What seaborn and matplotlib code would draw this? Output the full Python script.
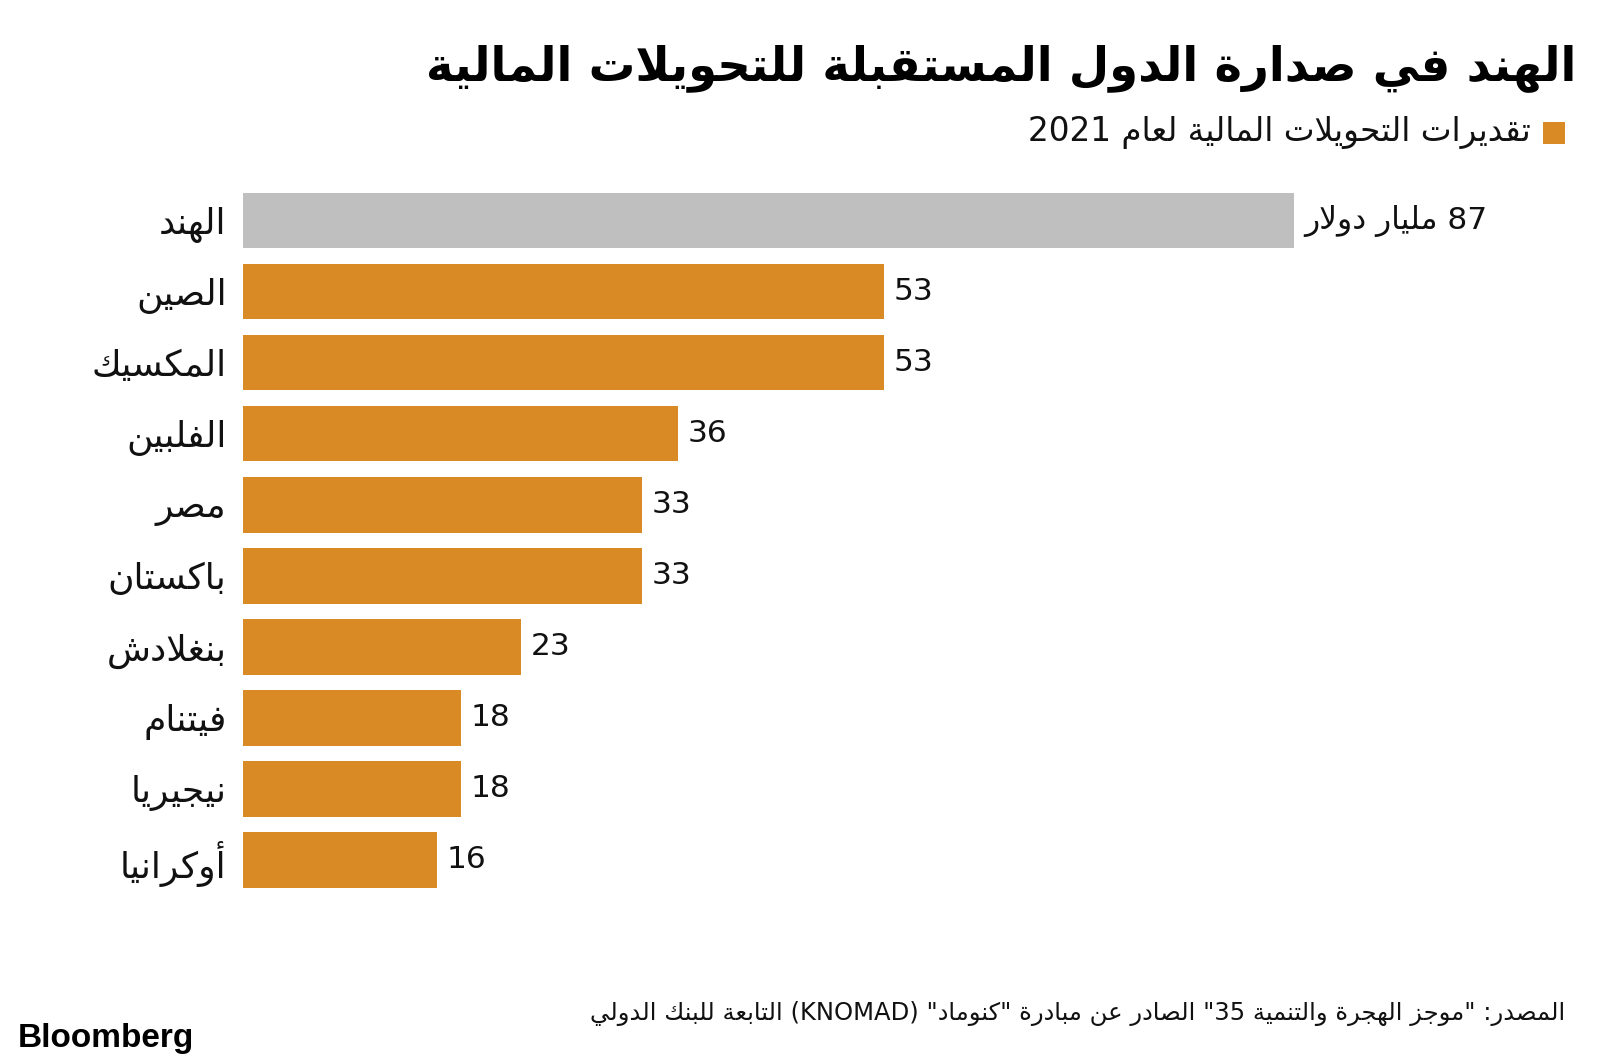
import re
import matplotlib
matplotlib.use("Agg")
import matplotlib.pyplot as plt
import matplotlib.patches as mpatches
import seaborn as sns

# ---------------------------------------------------
# Data
# ---------------------------------------------------
TITLE = "الهند في صدارة الدول المستقبلة للتحويلات المالية"
LEGEND_TEXT = "تقديرات التحويلات المالية لعام 2021"
SOURCE = 'المصدر: "موجز الهجرة والتنمية 35" الصادر عن مبادرة "كنوماد" (KNOMAD) التابعة للبنك الدولي'
UNIT = "مليار دولار"

countries = ["الهند", "الصين", "المكسيك", "الفلبين", "مصر",
             "باكستان", "بنغلادش", "فيتنام", "نيجيريا", "أوكرانيا"]
values = [87, 53, 53, 36, 33, 33, 23, 18, 18, 16]

ORANGE = "#DA8A25"
GRAY = "#BFBFBF"

# ---------------------------------------------------
# Minimal Arabic shaping + bidi (matplotlib has no text shaping)
# ---------------------------------------------------
TWO = {"\u0622": 0xFE81, "\u0623": 0xFE83, "\u0624": 0xFE85, "\u0625": 0xFE87,
       "\u0627": 0xFE8D, "\u0629": 0xFE93, "\u062F": 0xFEA9, "\u0630": 0xFEAB,
       "\u0631": 0xFEAD, "\u0632": 0xFEAF, "\u0648": 0xFEED, "\u0649": 0xFEEF}
FOUR = {"\u0626": 0xFE89, "\u0628": 0xFE8F, "\u062A": 0xFE95, "\u062B": 0xFE99,
        "\u062C": 0xFE9D, "\u062D": 0xFEA1, "\u062E": 0xFEA5, "\u0633": 0xFEB1,
        "\u0634": 0xFEB5, "\u0635": 0xFEB9, "\u0636": 0xFEBD, "\u0637": 0xFEC1,
        "\u0638": 0xFEC5, "\u0639": 0xFEC9, "\u063A": 0xFECD, "\u0641": 0xFED1,
        "\u0642": 0xFED5, "\u0643": 0xFED9, "\u0644": 0xFEDD, "\u0645": 0xFEE1,
        "\u0646": 0xFEE5, "\u0647": 0xFEE9, "\u064A": 0xFEF1}
LAMALEF = {"\u0622": 0xFEF5, "\u0623": 0xFEF7, "\u0625": 0xFEF9, "\u0627": 0xFEFB}
MIRROR = {"(": ")", ")": "(", "[": "]", "]": "["}


def shape(s):
    units = []  # (char, base, kind) kind: 2 / 4 / None
    i = 0
    while i < len(s):
        c = s[i]
        if c == "\u0644" and i + 1 < len(s) and s[i + 1] in LAMALEF:
            units.append((c + s[i + 1], LAMALEF[s[i + 1]], 2))
            i += 2
            continue
        if c in FOUR:
            units.append((c, FOUR[c], 4))
        elif c in TWO:
            units.append((c, TWO[c], 2))
        else:
            units.append((c, None, None))
        i += 1
    out = []
    for k, (c, base, kind) in enumerate(units):
        if base is None:
            out.append(c)
            continue
        prev_joins = k > 0 and units[k - 1][2] == 4
        next_joins = kind == 4 and k + 1 < len(units) and units[k + 1][2] is not None
        if prev_joins and next_joins:
            off = 3
        elif next_joins:
            off = 2
        elif prev_joins:
            off = 1
        else:
            off = 0
        out.append(chr(base + off))
    return "".join(out)


def ar(s):
    shaped = shape(s)
    parts = re.split(r"([A-Za-z0-9]+)", shaped)
    vis = []
    for p in reversed(parts):
        if re.fullmatch(r"[A-Za-z0-9]+", p):
            vis.append(p)
        else:
            vis.append("".join(MIRROR.get(ch, ch) for ch in reversed(p)))
    return "".join(vis)


# ---------------------------------------------------
# Plot
# ---------------------------------------------------
sns.set_theme(style="white")
plt.rcParams["font.family"] = ["DejaVu Sans"]

fig = plt.figure(figsize=(16, 10.63), dpi=100)
ax = fig.add_axes([0.152, 0.1576, 0.657, 0.6682])

labels = [ar(c) for c in countries]
sns.barplot(x=values, y=labels, color=ORANGE, saturation=1, width=0.78,
            linewidth=0, orient="h", ax=ax)
ax.patches[0].set_facecolor(GRAY)

ax.set_xlim(0, 87)
ax.set_ylim(9.5, -0.5)
ax.set_xlabel("")
ax.set_ylabel("")
ax.set_xticks([])
ax.tick_params(axis="y", length=0, pad=12, labelsize=26, labelcolor="#111111")
sns.despine(ax=ax, left=True, bottom=True)

for i, v in enumerate(values):
    txt = ar(f"{v} {UNIT}") if i == 0 else str(v)
    ax.annotate(txt, (v, i), xytext=(7, 0), textcoords="offset points",
                ha="left", va="center", fontsize=22.5, color="#111111")

# Title / legend / footer
fig.text(0.985, 0.936, ar(TITLE), ha="right", va="center", fontsize=33.5,
         fontweight="bold", color="black")
fig.patches.append(mpatches.Rectangle((0.9645, 0.865), 0.0135, 0.0205,
                                      transform=fig.transFigure,
                                      facecolor=ORANGE, edgecolor="none"))
fig.text(0.957, 0.875, ar(LEGEND_TEXT), ha="right", va="center",
         fontsize=23.5, color="#111111")
fig.text(0.978, 0.047, ar(SOURCE), ha="right", va="center",
         fontsize=17.5, color="#111111")
fig.text(0.011, 0.023, "Bloomberg", ha="left", va="center", fontsize=24,
         fontweight="heavy", family="Liberation Sans", color="black")

fig.savefig("out.png", dpi=100, facecolor="white")
